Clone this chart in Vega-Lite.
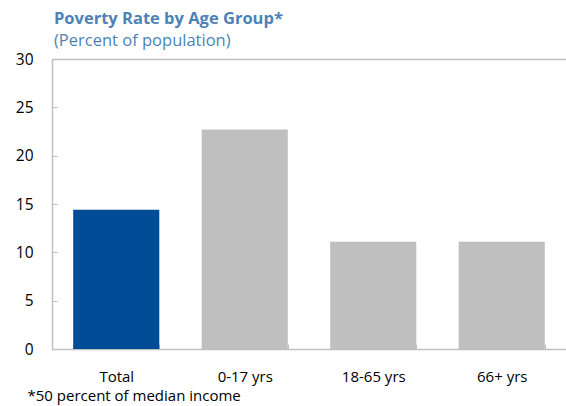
{
  "$schema": "https://vega.github.io/schema/vega-lite/v6.json",
  "width": 514,
  "height": 290,
  "autosize": {"type": "none"},
  "padding": {"left": 52, "top": 59, "right": 0, "bottom": 57},
  "background": "white",
  "config": {"view": {"stroke": null}, "font": "Open Sans"},
  "title": {
    "text": "Poverty Rate by Age Group*",
    "subtitle": "(Percent of population)",
    "anchor": "start",
    "frame": "group",
    "orient": "top",
    "offset": 3,
    "dx": 2,
    "font": "Open Sans",
    "fontSize": 16.5,
    "fontWeight": "bold",
    "color": "#4D82B8",
    "subtitleFont": "Open Sans",
    "subtitleFontSize": 16.5,
    "subtitleColor": "#4D82B8",
    "subtitlePadding": 5
  },
  "data": {
    "values": [
      {"group": "Total", "rate": 14.4, "kind": "total"},
      {"group": "0-17 yrs", "rate": 22.7, "kind": "age"},
      {"group": "18-65 yrs", "rate": 11.1, "kind": "age"},
      {"group": "66+ yrs", "rate": 11.1, "kind": "age"}
    ]
  },
  "mark": {"type": "bar"},
  "encoding": {
    "x": {
      "field": "group",
      "type": "nominal",
      "sort": null,
      "scale": {"paddingInner": 0.33, "paddingOuter": 0.165},
      "axis": {
        "title": "*50 percent of median income",
        "titleAnchor": "start",
        "titleAlign": "left",
        "titleX": -25,
        "titleY": 51,
        "titleFontSize": 15,
        "titleFontWeight": "normal",
        "titleColor": "#000000",
        "titleBaseline": "alphabetic",
        "labelAngle": 0,
        "labelFontSize": 15,
        "labelColor": "#000000",
        "labelPadding": 25,
        "domainColor": "#BFBFBF",
        "domainWidth": 1.5,
        "tickBand": "extent",
        "tickColor": "#BFBFBF",
        "tickSize": -5,
        "tickWidth": 1
      }
    },
    "y": {
      "field": "rate",
      "type": "quantitative",
      "scale": {"domain": [0, 30]},
      "axis": {
        "title": null,
        "values": [0, 5, 10, 15, 20, 25, 30],
        "labelFontSize": 15.5,
        "labelColor": "#000000",
        "labelPadding": 24,
        "domainColor": "#BFBFBF",
        "domainWidth": 1.5,
        "tickColor": "#BFBFBF",
        "tickSize": -5,
        "grid": true,
        "gridColor": "#BFBFBF",
        "gridWidth": 1.5,
        "gridOpacity": {"condition": {"test": "datum.value === 30", "value": 1}, "value": 0}
      }
    },
    "color": {
      "field": "kind",
      "type": "nominal",
      "scale": {"domain": ["total", "age"], "range": ["#004C97", "#BFBFBF"]},
      "legend": null
    }
  }
}
